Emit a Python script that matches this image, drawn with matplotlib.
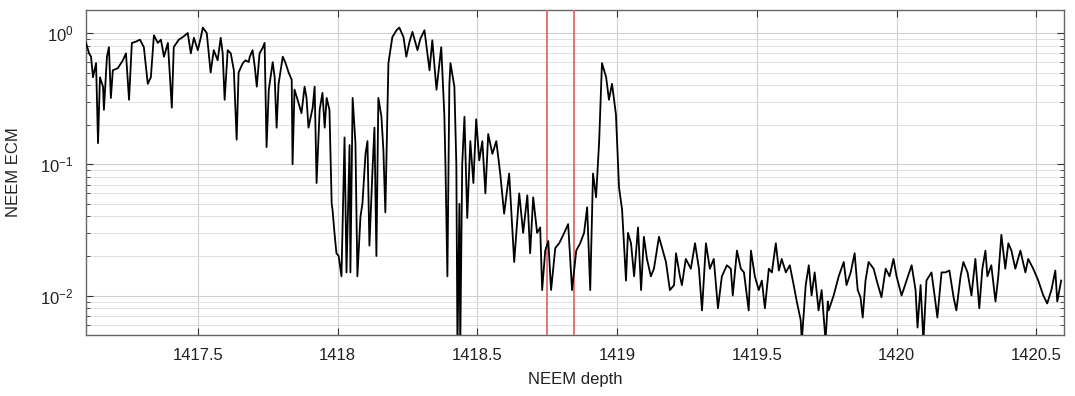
import matplotlib
matplotlib.use("Agg")
import matplotlib.pyplot as plt
from matplotlib.ticker import LogLocator, FixedLocator

plt.rcParams['font.family'] = ['Liberation Sans', 'DejaVu Sans']

# NEEM ECM trace (depth in m, ECM value)
depth = [
    # 1417.1 - 1417.98
    1417.100, 1417.111, 1417.118, 1417.125, 1417.136, 1417.143, 1417.150, 1417.161,
    1417.164, 1417.175, 1417.182, 1417.189, 1417.196, 1417.214, 1417.232, 1417.243,
    1417.254, 1417.264, 1417.279, 1417.293, 1417.307, 1417.321, 1417.332, 1417.343,
    1417.357, 1417.368, 1417.379, 1417.393, 1417.407, 1417.414, 1417.432, 1417.446,
    1417.464, 1417.475, 1417.486, 1417.500, 1417.511, 1417.518, 1417.532, 1417.546,
    1417.557, 1417.571, 1417.582, 1417.589, 1417.596, 1417.607, 1417.618, 1417.629,
    1417.639, 1417.646, 1417.661, 1417.671, 1417.682, 1417.686, 1417.696, 1417.704,
    1417.711, 1417.721, 1417.732, 1417.739, 1417.746, 1417.754, 1417.768, 1417.775,
    1417.782, 1417.789, 1417.804, 1417.814, 1417.825, 1417.836, 1417.839, 1417.846,
    1417.857, 1417.871, 1417.882, 1417.889, 1417.896, 1417.911, 1417.918, 1417.925,
    1417.936, 1417.946, 1417.954, 1417.961, 1417.971, 1417.979, 1417.982,
    # 1417.98 - 1418.4
    1417.989, 1417.996, 1418.004, 1418.014, 1418.025, 1418.032, 1418.043,
    1418.046, 1418.054, 1418.064, 1418.071, 1418.082, 1418.089, 1418.100, 1418.107,
    1418.114, 1418.125, 1418.132, 1418.139, 1418.146, 1418.157, 1418.164, 1418.171,
    1418.182, 1418.196, 1418.211, 1418.221, 1418.236, 1418.246, 1418.257, 1418.268,
    1418.286, 1418.296, 1418.311, 1418.329, 1418.339, 1418.354, 1418.371, 1418.382,
    1418.386, 1418.393,
    # 1418.4 - 1419.0
    1418.400, 1418.404, 1418.418, 1418.425, 1418.429, 1418.436,
    1418.439, 1418.446, 1418.454, 1418.464, 1418.475, 1418.486, 1418.496, 1418.507,
    1418.518, 1418.529, 1418.539, 1418.554, 1418.568, 1418.582, 1418.596, 1418.614,
    1418.632, 1418.650, 1418.664, 1418.679, 1418.689, 1418.700, 1418.714, 1418.725,
    1418.732, 1418.743, 1418.754, 1418.764, 1418.779, 1418.793, 1418.811, 1418.825,
    1418.839, 1418.854, 1418.868, 1418.882, 1418.893, 1418.904, 1418.914, 1418.925,
    1418.936, 1418.946, 1418.961, 1418.971, 1418.982, 1418.996, 1419.007, 1419.018,
    # 1419.0 - 1420.6
    1419.032, 1419.039, 1419.050, 1419.061, 1419.075, 1419.086, 1419.096, 1419.107,
    1419.121, 1419.132, 1419.150, 1419.161, 1419.175, 1419.189, 1419.204, 1419.211,
    1419.225, 1419.232, 1419.246, 1419.264, 1419.279, 1419.293, 1419.304, 1419.318,
    1419.332, 1419.346, 1419.361, 1419.375, 1419.393, 1419.407, 1419.414, 1419.429,
    1419.443, 1419.454, 1419.471, 1419.479, 1419.493, 1419.507, 1419.518, 1419.529,
    1419.543, 1419.554, 1419.568, 1419.579, 1419.589, 1419.604, 1419.618, 1419.632,
    1419.643, 1419.657, 1419.661, 1419.675, 1419.686, 1419.696, 1419.707, 1419.721,
    1419.732, 1419.746, 1419.754, 1419.757, 1419.775, 1419.793, 1419.811, 1419.821,
    1419.836, 1419.850, 1419.861, 1419.871, 1419.879, 1419.889, 1419.900, 1419.918,
    1419.929, 1419.946, 1419.961, 1419.975, 1419.989, 1420.000, 1420.018, 1420.036,
    1420.054, 1420.068, 1420.075, 1420.086, 1420.096, 1420.107, 1420.125, 1420.136,
    1420.146, 1420.161, 1420.175, 1420.189, 1420.204, 1420.214, 1420.229, 1420.239,
    1420.254, 1420.268, 1420.282, 1420.296, 1420.307, 1420.318, 1420.325, 1420.339,
    1420.354, 1420.364, 1420.375, 1420.389, 1420.400, 1420.411, 1420.425, 1420.443,
    1420.461, 1420.471, 1420.489, 1420.507, 1420.525, 1420.539, 1420.554, 1420.568,
    1420.575, 1420.589,
]
ecm = [
    # 1417.1 - 1417.98
    0.84, 0.70, 0.66, 0.46, 0.59, 0.145, 0.46, 0.39,
    0.26, 0.66, 0.78, 0.32, 0.52, 0.54, 0.62, 0.70,
    0.31, 0.84, 0.86, 0.89, 0.78, 0.41, 0.46, 0.96,
    0.84, 0.89, 0.66, 0.84, 0.27, 0.78, 0.89, 0.93,
    1.00, 0.70, 0.92, 0.74, 0.93, 1.10, 1.00, 0.50,
    0.74, 0.62, 0.92, 0.70, 0.31, 0.74, 0.70, 0.52,
    0.154, 0.50, 0.59, 0.62, 0.60, 0.66, 0.74, 0.55,
    0.39, 0.70, 0.77, 0.84, 0.135, 0.37, 0.60, 0.46,
    0.19, 0.41, 0.66, 0.59, 0.50, 0.44, 0.10, 0.37,
    0.31, 0.245, 0.39, 0.32, 0.19, 0.27, 0.39, 0.072,
    0.26, 0.35, 0.19, 0.32, 0.26, 0.05, 0.045,
    # 1417.98 - 1418.4
    0.03, 0.021, 0.020, 0.014, 0.16, 0.015, 0.14,
    0.015, 0.32, 0.145, 0.014, 0.04, 0.05, 0.12, 0.15,
    0.024, 0.09, 0.19, 0.020, 0.32, 0.23, 0.128, 0.043,
    0.59, 0.93, 1.05, 1.10, 0.93, 0.66, 0.85, 1.02,
    0.74, 0.90, 1.05, 0.52, 0.88, 0.37, 0.78, 0.24,
    0.10, 0.014,
    # 1418.4 - 1419.0
    0.40, 0.59, 0.39, 0.10, 0.004, 0.05,
    0.004, 0.10, 0.23, 0.039, 0.15, 0.072, 0.22, 0.107,
    0.15, 0.06, 0.17, 0.12, 0.15, 0.085, 0.042, 0.085,
    0.018, 0.06, 0.03, 0.058, 0.021, 0.056, 0.03, 0.033,
    0.011, 0.022, 0.026, 0.011, 0.023, 0.025, 0.03, 0.035,
    0.011, 0.022, 0.025, 0.03, 0.047, 0.011, 0.085, 0.056,
    0.15, 0.59, 0.46, 0.31, 0.41, 0.24, 0.067, 0.045,
    # 1419.0 - 1420.6
    0.013, 0.030, 0.025, 0.014, 0.033, 0.011, 0.028, 0.019,
    0.014, 0.016, 0.028, 0.023, 0.018, 0.011, 0.012, 0.021,
    0.014, 0.012, 0.019, 0.016, 0.025, 0.016, 0.0077, 0.025,
    0.016, 0.019, 0.008, 0.014, 0.017, 0.016, 0.010, 0.022,
    0.016, 0.015, 0.0077, 0.022, 0.014, 0.011, 0.013, 0.008,
    0.016, 0.015, 0.025, 0.0155, 0.019, 0.015, 0.017, 0.012,
    0.009, 0.0065, 0.0045, 0.012, 0.017, 0.010, 0.015, 0.0077,
    0.011, 0.0045, 0.009, 0.0077, 0.010, 0.014, 0.018, 0.012,
    0.015, 0.021, 0.011, 0.0097, 0.0068, 0.013, 0.018, 0.016,
    0.013, 0.0097, 0.016, 0.014, 0.019, 0.014, 0.010, 0.013,
    0.017, 0.011, 0.0057, 0.012, 0.0045, 0.013, 0.015, 0.010,
    0.0068, 0.015, 0.015, 0.0155, 0.0097, 0.0077, 0.014, 0.018,
    0.015, 0.010, 0.019, 0.008, 0.016, 0.022, 0.014, 0.017,
    0.009, 0.014, 0.029, 0.016, 0.025, 0.022, 0.016, 0.022,
    0.015, 0.019, 0.016, 0.013, 0.010, 0.0087, 0.011, 0.0155,
    0.009, 0.013,
]

# red markers bounding the sampled section
section_bounds = [1418.75, 1418.845]
x_ticks = [1417.5, 1418, 1418.5, 1419, 1419.5, 1420, 1420.5]
x_tick_labels = ["1417.5", "1418", "1418.5", "1419", "1419.5", "1420", "1420.5"]

fig = plt.figure(figsize=(10.75, 3.96), dpi=100)
ax = fig.add_axes([0.080, 0.154, 0.910, 0.821])

ax.set_yscale('log')
ax.set_xlim(1417.1, 1420.6)
ax.set_ylim(0.005, 1.5)

ax.grid(True, which='major', color='#cfcfcf', linewidth=0.8)
ax.grid(True, which='minor', axis='y', color='#dcdcdc', linewidth=0.6)
ax.set_axisbelow(True)

for xb in section_bounds:
    ax.axvline(xb, color='#e06a6a', linewidth=1.3, zorder=3)

ax.plot(depth, ecm, color='black', linewidth=1.3, zorder=4)

ax.xaxis.set_major_locator(FixedLocator(x_ticks))
ax.set_xticklabels(x_tick_labels)
ax.yaxis.set_major_locator(LogLocator(base=10, numticks=10))
ax.yaxis.set_minor_locator(LogLocator(base=10, subs=range(2, 10), numticks=20))

ax.tick_params(which='both', direction='in', top=True, right=True,
               labelsize=12, colors='#333333', labelcolor='#222222')
ax.tick_params(which='major', length=5)
ax.tick_params(which='minor', length=3)
ax.tick_params(axis='x', pad=9)
ax.tick_params(axis='y', pad=9)
for s in ax.spines.values():
    s.set_color('#666666')
    s.set_linewidth(1.0)

ax.set_xlabel("NEEM depth", fontsize=12, color='#222222', labelpad=7)
ax.set_ylabel("NEEM ECM", fontsize=12, color='#222222', labelpad=14)

fig.savefig("out.png", dpi=100, facecolor='white')
